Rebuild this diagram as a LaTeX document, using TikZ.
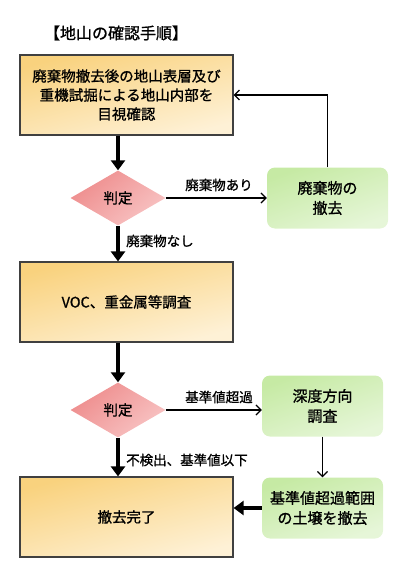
\documentclass[tikz,border=0pt]{standalone}
\usepackage{fontspec}
\newfontfamily\jp[FakeBold=1]{Noto Sans CJK JP}
\usepackage{xcolor}
\usepackage{tikz}
\usetikzlibrary{shapes.geometric,arrows.meta,positioning,calc}
\definecolor{boxtop}{HTML}{F9D27E}
\definecolor{boxbot}{HTML}{FEF1D6}
\definecolor{grntop}{HTML}{C6EAA4}
\definecolor{grnbot}{HTML}{E6F6D8}
\definecolor{dectop}{HTML}{EE8C8C}
\definecolor{decbot}{HTML}{F8C4C4}

\begin{document}
\begin{tikzpicture}[
  x=1pt, y=-1pt,
  proc/.style={draw=black!75, line width=1.2pt, minimum width=213pt, minimum height=80pt,
               inner sep=0pt, align=center, font=\jp\fontsize{14.5}{19}\selectfont,
               top color=boxtop, bottom color=boxbot, shading angle=15},
  act/.style={rounded corners=8pt, minimum width=121pt, minimum height=61pt,
              inner sep=0pt, align=center, font=\jp\fontsize{15}{20}\selectfont,
              top color=grntop, bottom color=grnbot, shading angle=20},
  dec/.style={diamond, aspect=1.73, minimum width=95pt, minimum height=55pt, inner sep=0pt,
              font=\jp\fontsize{14.5}{17}\selectfont,
              top color=dectop, bottom color=decbot, shading angle=40},
  lbl/.style={font=\jp\fontsize{13.5}{16}\selectfont, inner sep=1pt},
  thk/.style={line width=4pt, -{Triangle[length=10pt,width=14pt]}},
  thn/.style={line width=1.2pt, -{Straight Barb[length=5pt,width=10pt]}}
]
  \useasboundingbox (0,0) rectangle (400,580);
  \node[font=\jp\fontsize{16}{18}\selectfont] (title) at (116,33) {【地山の確認手順】};

  % main column
  \node[proc] (box1) at (126.5,95) {廃棄物撤去後の地山表層及び\\重機試掘による地山内部を\\目視確認};
  \node[dec] (dec1) at (118,198) {判定};
  \node[proc] (box2) at (126.5,302) {VOC、重金属等調査};
  \node[dec] (dec2) at (118,410) {判定};
  \node[proc] (box3) at (126.5,517) {撤去完了};

  % side column
  \node[act] (rem1) at (327.5,198) {廃棄物の\\撤去};
  \node[act] (deep) at (322.5,406) {深度方向\\調査};
  \node[act] (rem2) at (322.5,508) {基準値超過範囲\\の土壌を撤去};

  \draw[thk] (box1.south -| dec1.north) -- (dec1.north);
  \draw[thk] (dec1.south) -- (box2.north -| dec1.south);
  \draw[thk] (box2.south -| dec2.north) -- (dec2.north);
  \draw[thk] (dec2.south) -- (box3.north -| dec2.south);
  \draw[thk] (rem2.west) -- (rem2.west -| box3.east);

  \draw[thn] (dec1.east) -- (dec1.east -| rem1.west);
  \draw[thn] (rem1.north) |- (box1.east);
  \draw[thn] (dec2.east) -- (dec2.east -| deep.west);
  \draw[thn] (deep.south -| rem2.north) -- (rem2.north);

  \node[lbl] (l1) at (219,185) {廃棄物あり};
  \node[lbl, anchor=west] (l2) at (125,241) {廃棄物なし};
  \node[lbl] (l3) at (219,397) {基準値超過};
  \node[lbl, anchor=west] (l4) at (125,460) {不検出、基準値以下};
\end{tikzpicture}
\end{document}
